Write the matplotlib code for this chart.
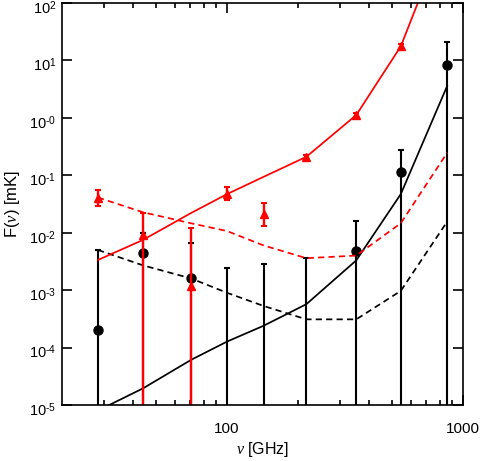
import numpy as np
import matplotlib
matplotlib.use('Agg')
import matplotlib.pyplot as plt
from matplotlib.ticker import NullLocator, FixedLocator
from matplotlib.transforms import ScaledTranslation

plt.rcParams['font.family'] = ['Liberation Sans', 'DejaVu Sans']
plt.rcParams['mathtext.fontset'] = 'custom'
plt.rcParams['mathtext.rm'] = 'Liberation Sans'
plt.rcParams['mathtext.it'] = 'Liberation Serif:italic'

# Planck channel frequencies [GHz]
freq = np.array([28.4, 44.1, 70.4, 100, 143, 217, 353, 545, 857])

# black data points (nan = below plot range) and upper ends of their error bars
black_val = np.array([2.0e-4, 4.5e-3, 1.6e-3, np.nan, np.nan, np.nan, 4.8e-3, 0.113, 8.2])
black_top = np.array([5.1e-3, 9.8e-3, 6.6e-3, 2.4e-3, 2.8e-3, 3.6e-3, 0.0162, 0.279, 20.9])

# red data points and error bar ends (1e-8 = runs off the bottom)
red_val = np.array([0.040, 9.3e-3, 1.2e-3, 0.047, 0.0212, 0.208, 1.12, 17.6])
red_lo = np.array([0.0295, 1e-8, 1e-8, 0.037, 0.0131, 0.195, 1.05, 15.8])
red_hi = np.array([0.0554, 0.0222, 0.0122, 0.0618, 0.0325, 0.222, 1.20, 19.5])

# model curves
black_model = np.array([8e-6, 1.95e-5, 6.1e-5, 1.27e-4, 2.4e-4, 5.7e-4, 3.3e-3, 0.047, 3.6])
black_noise = np.array([5.0e-3, 2.7e-3, 1.6e-3, 9.0e-4, 5.3e-4, 3.1e-4, 3.1e-4, 9.7e-4, 0.0156])
red_model = np.array([3.35e-3, 7.5e-3, 0.022, 0.047, 0.094, 0.21, 1.12, 17.6, 2000.0])
red_noise = np.array([0.041, 0.0227, 0.0146, 0.0107, 6.0e-3, 3.6e-3, 4.0e-3, 0.0146, 0.247])

ytick_vals = [1e-5, 1e-4, 1e-3, 1e-2, 1e-1, 1e0, 1e1, 1e2]
ytick_labels = [r'10$^{\text{-}5}$', r'10$^{\text{-}4}$', r'10$^{\text{-}3}$', r'10$^{\text{-}2}$',
                r'10$^{\text{-}1}$', r'10$^{\text{-}0}$', '10$^{1}$', '10$^{2}$']

fig = plt.figure(figsize=(4.8, 4.61), dpi=100)
ax = fig.add_axes([62 / 480, 1 - 405 / 461, 401 / 480, 402 / 461])
ax.set_xscale('log')
ax.set_yscale('log')
ax.set_xlim(20, 1000)
ax.set_ylim(1e-5, 1e2)

lw = 1.25
dash = (0, (3.6, 2.4))

# black: models, error bars, points
ax.plot(freq, black_model, color='black', lw=lw)
ax.plot(freq, black_noise, color='black', lw=lw, linestyle=dash)
ax.errorbar(freq, black_top, yerr=[black_top - 1e-8, np.zeros_like(black_top)],
            fmt='none', ecolor='black', elinewidth=1.5, capsize=2.5, capthick=1.5)
ax.plot(freq, black_val, 'o', color='black', markersize=6.5, linestyle='none')

# red: models, error bars, points
ax.plot(freq, red_model, color='red', lw=lw)
ax.plot(freq, red_noise, color='red', lw=lw, linestyle=dash)
ax.errorbar(freq[:8], red_val, yerr=[red_val - red_lo, red_hi - red_val],
            fmt='none', ecolor='red', elinewidth=1.7, capsize=2.5, capthick=1.5)
ax.plot(freq[:8], red_val, '^', color='red', markersize=6, linestyle='none')

ax.xaxis.set_major_locator(FixedLocator([100, 1000]))
ax.set_xticklabels(['100', '1000'])
ax.xaxis.set_minor_locator(FixedLocator([30, 40, 50, 60, 70, 80, 90,
                                         200, 300, 400, 500, 600, 700, 800, 900]))
ax.set_yticks(ytick_vals)
ax.set_yticklabels(ytick_labels)
ax.yaxis.set_minor_locator(NullLocator())

ax.tick_params(which='both', direction='in', top=True, right=True, width=1.2)
ax.tick_params(axis='x', labelsize=11)
ax.tick_params(axis='y', labelsize=10.5)
ax.tick_params(which='major', length=7.2)
ax.tick_params(which='minor', length=3.6)
ax.tick_params(axis='x', which='major', pad=12)
ax.tick_params(axis='y', which='major', pad=4)
for s in ax.spines.values():
    s.set_linewidth(1.2)

# nudge y tick labels down a little, as in the original
shift = ScaledTranslation(0, -2.5 / 72, fig.dpi_scale_trans)
for lbl in ax.get_yticklabels():
    lbl.set_transform(lbl.get_transform() + shift)

ax.set_xlabel(r'$\nu$ [GHz]', fontsize=11.5, labelpad=3)
ax.set_ylabel(r'F($\nu$) [mK]', fontsize=12, labelpad=5)

fig.savefig('out.png', dpi=100)
